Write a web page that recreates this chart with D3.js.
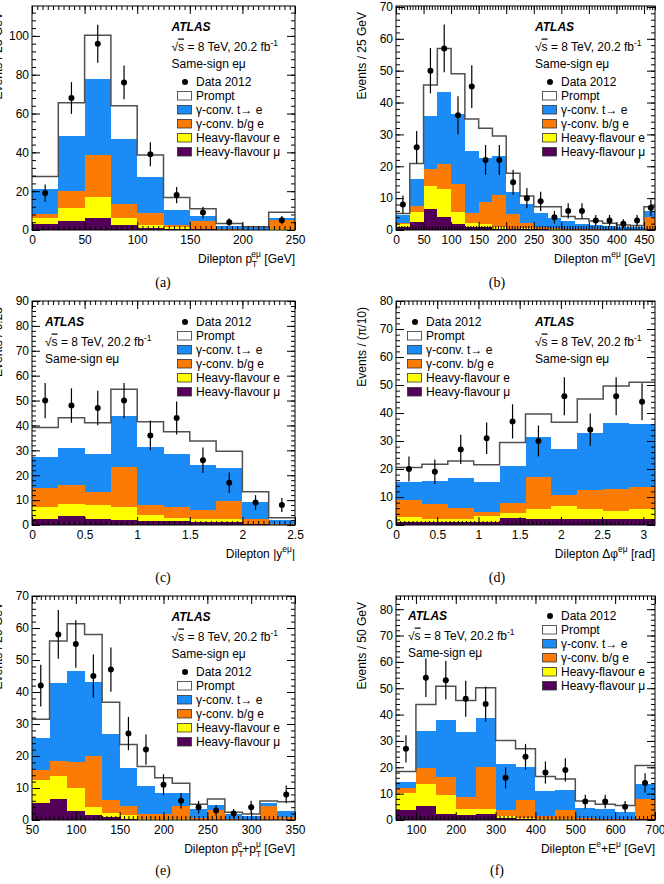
<!DOCTYPE html>
<html>
<head>
<meta charset="utf-8">
<script src="https://cdn.jsdelivr.net/npm/d3@7"></script>
<style>
  body { margin: 0; background: #fff; }
  svg { display: block; }
</style>
</head>
<body>
<div id="chart"></div>
<script>
const W = 664, H = 884;
const font = "'Liberation Sans', Arial, Helvetica, sans-serif";

// fill colours of the stacked components
const colors = { prompt: "#ffffff", tconv: "#1b8cf5", bgconv: "#fb7b05", hfe: "#ffff00", hfmu: "#520058" };
const keys = ["hfmu", "hfe", "bgconv", "tconv", "prompt"]; // bottom -> top
const legendKeys = ["prompt", "tconv", "bgconv", "hfe", "hfmu"];
const legendLabels = ["Prompt", "γ-conv. t→ e", "γ-conv. b/g e", "Heavy-flavour e", "Heavy-flavour μ"];

// (a) dilepton pT
const aEdges = [0, 25, 50, 75, 100, 125, 150, 175, 200, 225, 250];
const aPrompt = [6.5, 17, 22.3, 17.3, 11.6, 6.4, 3.8, 1.2, 0.2, 3.1];
const aTconv = [13, 28.5, 39.3, 33.5, 18.5, 7.7, 2.4, 1.9, 1.3, 0.8];
const aBgconv = [2, 8.5, 21.7, 7.2, 6, 0.9, 4.3, 0.2, 0.2, 4.9];
const aHfe = [3, 6.9, 11, 3.6, 1.4, 1, 0.2, 0.1, 0, 0.1];
const aHfmu = [3, 4.6, 6, 2.4, 1.2, 0.7, 0.3, 0, 0, 0.2];
const aData = [19, 68, 96, 76, 39, 18, 9, 4, null, 5];
const aErr = [4.4, 8.2, 9.8, 8.7, 6.2, 4.2, 3, 2, 0, 2.2];

// (b) dilepton mass
const bEdges = [0, 25, 50, 75, 100, 125, 150, 175, 200, 225, 250, 275, 300, 325, 350, 375, 400, 425, 450, 475];
const bPrompt = [0.5, 4.9, 9.7, 13.6, 12.6, 10, 9.4, 6.3, 5.8, 2.5, 2.1, 3.6, 1.4, 1.6, 1.2, 0.7, 0.6, 0.4, 1.2];
const bTconv = [2.4, 8.5, 16.8, 22.7, 22, 19.6, 13.8, 12.2, 7.1, 6.1, 4.2, 3, 2.5, 1.7, 1.4, 1.3, 0.9, 0.9, 2.1];
const bBgconv = [0.4, 2, 5.1, 7.7, 8.9, 2.9, 6.8, 10.2, 4.6, 1.6, 0.7, 0.5, 0.2, 0.2, 0.2, 0.1, 0.1, 0.1, 3.7];
const bHfe = [0.9, 2.9, 7.3, 9, 3.7, 1.3, 1.1, 0.4, 0.1, 0.2, 0.1, 0.1, 0.1, 0, 0, 0, 0, 0, 0.1];
const bHfmu = [1, 2.6, 6.6, 4, 1.8, 1, 0.8, 0.4, 0.2, 0.3, 0.2, 0.1, 0, 0, 0, 0, 0, 0, 0.2];
const bData = [8, 26, 50, 57, 36, 45, 22, 22, 15, 10, 9, 4, 6, 6, 3, 3, 2, 3, 7];
const bErr = [2.8, 5.1, 7.1, 7.5, 6, 6.7, 4.7, 4.7, 3.9, 3.2, 3, 2, 2.4, 2.4, 1.7, 1.7, 1.4, 1.7, 2.6];

// (c) dilepton |y|
const cEdges = [0, 0.25, 0.5, 0.75, 1, 1.25, 1.5, 1.75, 2, 2.25, 2.5];
const cPrompt = [11.9, 12.3, 12.6, 10.7, 10.3, 9, 9.6, 6.8, 4, 0.9];
const cTconv = [12.4, 14.7, 15.2, 20.6, 23.2, 21.1, 18.1, 13.2, 7.1, 1.5];
const cBgconv = [7.5, 7.8, 5.4, 15.8, 4, 4.5, 3.5, 7.3, 1.8, 0.3];
const cHfe = [5, 4.6, 5.5, 5.4, 2.3, 1.4, 1.2, 1, 0.2, 0.1];
const cHfmu = [2.4, 3.7, 2.4, 2, 1.7, 1.5, 1.3, 1.3, 0.3, 0.1];
const cData = [50, 48, 47, 50, 36, 43, 26, 17, 9, 8];
const cErr = [7.1, 6.9, 6.9, 7.1, 6, 6.6, 5.1, 4.1, 3, 2.8];

// (d) dilepton delta phi, bins of pi/10
const dEdges = d3.range(11).map(i => i * Math.PI / 10);
const dPrompt = [5, 6.1, 6.1, 6.1, 8.4, 8.2, 9.4, 12.2, 13.2, 14.8];
const dTconv = [6.5, 8.2, 10.6, 10.6, 13.3, 14.3, 16.6, 20.3, 23.5, 22.8];
const dBgconv = [6.3, 5.3, 3.9, 1.6, 3.4, 11.5, 3.9, 6.9, 7.8, 7.7];
const dHfe = [1.7, 1.1, 1.1, 2, 2, 3.5, 4.7, 3.5, 3.1, 3.4];
const dHfmu = [1, 1, 1.2, 1.2, 2.4, 2.1, 2.1, 2.1, 2, 2.3];
const dData = [20, 19, 27, 31, 37, 30, 46, 34, 46, 44];
const dErr = [4.5, 4.4, 5.2, 5.6, 6.1, 5.5, 6.8, 5.8, 6.8, 6.6];

// (e) pT(e) + pT(mu)
const eEdges = [50, 70, 90, 110, 130, 150, 170, 190, 210, 230, 250, 270, 290, 310, 330, 350];
const ePrompt = [5.8, 13.2, 14.6, 14.8, 10, 7.5, 6.1, 4.7, 3, 1.6, 1.9, 0.5, 0.6, 0.7, 2.9];
const eTconv = [10.1, 24.3, 28.7, 23.1, 20.5, 11.6, 8.7, 6.6, 4.1, 2.8, 1.6, 1.7, 1.2, 0.7, 1.8];
const eBgconv = [3.1, 4.6, 8.1, 16.1, 4.2, 2.9, 1.6, 1.7, 4.2, 0.4, 3, 0.2, 0.1, 4.4, 0.9];
const eHfe = [7.1, 7.3, 7.1, 2.4, 1.3, 1.3, 0.2, 0.1, 0.1, 0.1, 0.1, 0, 0, 0.1, 0.1];
const eHfmu = [5.4, 6.5, 2.8, 1.6, 0.8, 0.3, 0.1, 0.1, 0.1, 0, 0, 0, 0, 0, 0];
const eData = [42, 58, 55, 45, 47, 27, 22, 11, 6, 4, 3, 2, 4, null, 8];
const eErr = [6.5, 7.6, 7.4, 6.7, 6.9, 5.2, 4.7, 3.3, 2.4, 2, 1.7, 1.4, 2, 0, 2.8];

// (f) E(e) + E(mu)
const fEdges = [50, 100, 150, 200, 250, 300, 350, 400, 450, 500, 550, 600, 650, 700];
const fPrompt = [4.1, 9.9, 12.7, 12, 11.5, 8.9, 6.7, 5.5, 4.2, 2.5, 1.9, 2.3, 7];
const fTconv = [2.2, 14, 21.8, 24.7, 18.4, 17.5, 12.9, 9.3, 7.6, 3.8, 3.6, 2.9, 5.8];
const fBgconv = [1.9, 6.3, 7, 4.4, 16.2, 2.3, 6.5, 1.5, 3.6, 0.8, 0.5, 0.3, 7.6];
const fHfe = [6.4, 8.3, 7, 2.3, 1.8, 0.6, 0.6, 0.1, 0.1, 0.1, 0, 0, 0.1];
const fHfmu = [3.8, 5.3, 2.3, 1.9, 2.3, 0.9, 0.3, 0.1, 0.1, 0, 0, 0, 0.2];
const fData = [27, 54, 53, 46, 44, 16, 24, 18, 19, 7, 7, 5, 14];
const fErr = [5.2, 7.3, 7.3, 6.8, 6.6, 4, 4.9, 4.2, 4.4, 2.6, 2.6, 2.2, 3.7];

// axis titles: [text, shift] with shift "sub", "sup" or "supb" (sup stacked over a sub)
const panels = [
  { id: "a", x0: 32, x1: 295, y0: 6, y1: 230, edges: aEdges, xDomain: [0, 250], yMax: 115.4,
    xTicks: [0, 50, 100, 150, 200, 250], xMinor: 5, yTicks: [0, 20, 40, 60, 80, 100], yMinor: 4,
    prompt: aPrompt, tconv: aTconv, bgconv: aBgconv, hfe: aHfe, hfmu: aHfmu, data: aData, err: aErr,
    ylabel: "Events / 25 GeV", xlabel: [["Dilepton p", ""], ["T", "sub"], ["eμ", "supb"], [" [GeV]", ""]],
    atlas: [139.5, 25], legend: [145, 80], caption: ["(a)", 163, 287] },
  { id: "b", x0: 396, x1: 655, y0: 6, y1: 230, edges: bEdges, xDomain: [0, 470], yMax: 70.3,
    xTicks: [0, 50, 100, 150, 200, 250, 300, 350, 400, 450], xMinor: 5, yTicks: [0, 10, 20, 30, 40, 50, 60, 70], yMinor: 2,
    prompt: bPrompt, tconv: bTconv, bgconv: bBgconv, hfe: bHfe, hfmu: bHfmu, data: bData, err: bErr,
    ylabel: "Events / 25 GeV", xlabel: [["Dilepton m", ""], ["eμ", "sup"], [" [GeV]", ""]],
    atlas: [139, 25], legend: [146, 80], caption: ["(b)", 497, 287] },
  { id: "c", x0: 32, x1: 295, y0: 301, y1: 525, edges: cEdges, xDomain: [0, 2.5], yMax: 90,
    xTicks: [0, 0.5, 1, 1.5, 2, 2.5], xMinor: 0.05, yTicks: [0, 10, 20, 30, 40, 50, 60, 70, 80, 90], yMinor: 2,
    prompt: cPrompt, tconv: cTconv, bgconv: cBgconv, hfe: cHfe, hfmu: cHfmu, data: cData, err: cErr,
    ylabel: "Events / 0.25", xlabel: [["Dilepton |y", ""], ["eμ", "sup"], ["|", ""]],
    atlas: [13, 25], legend: [145, 25], caption: ["(c)", 163, 582] },
  { id: "d", x0: 396, x1: 655, y0: 301, y1: 525, edges: dEdges, xDomain: [0, Math.PI], yMax: 80,
    xTicks: [0, 0.5, 1, 1.5, 2, 2.5, 3], xMinor: 0.05, yTicks: [0, 10, 20, 30, 40, 50, 60, 70, 80], yMinor: 2,
    prompt: dPrompt, tconv: dTconv, bgconv: dBgconv, hfe: dHfe, hfmu: dHfmu, data: dData, err: dErr,
    ylabel: "Events / (π/10)", xlabel: [["Dilepton Δφ", ""], ["eμ", "sup"], [" [rad]", ""]],
    atlas: [139, 25], legend: [11, 25], caption: ["(d)", 497, 582] },
  { id: "e", x0: 32, x1: 295, y0: 596, y1: 820, edges: eEdges, xDomain: [50, 350], yMax: 70,
    xTicks: [50, 100, 150, 200, 250, 300, 350], xMinor: 5, yTicks: [0, 10, 20, 30, 40, 50, 60, 70], yMinor: 2,
    prompt: ePrompt, tconv: eTconv, bgconv: eBgconv, hfe: eHfe, hfmu: eHfmu, data: eData, err: eErr,
    ylabel: "Events / 20 GeV",
    xlabel: [["Dilepton p", ""], ["T", "sub"], ["e", "supb"], ["+p", ""], ["T", "sub"], ["μ", "supb"], [" [GeV]", ""]],
    atlas: [139.5, 25], legend: [145, 80], caption: ["(e)", 163, 875] },
  { id: "f", x0: 396, x1: 655, y0: 596, y1: 820, edges: fEdges, xDomain: [50, 700], yMax: 85,
    xTicks: [100, 200, 300, 400, 500, 600, 700], xMinor: 10, yTicks: [0, 10, 20, 30, 40, 50, 60, 70, 80], yMinor: 2,
    prompt: fPrompt, tconv: fTconv, bgconv: fBgconv, hfe: fHfe, hfmu: fHfmu, data: fData, err: fErr,
    ylabel: "Events / 50 GeV", xlabel: [["Dilepton E", ""], ["e", "sup"], ["+E", ""], ["μ", "sup"], [" [GeV]", ""]],
    atlas: [12, 24], legend: [146, 24], caption: ["(f)", 497, 875] }
];

const svg = d3.select("#chart").append("svg")
  .attr("width", W)
  .attr("height", H)
  .attr("font-family", font);

function minorValues(domain, step) {
  const out = [];
  const start = Math.ceil(domain[0] / step - 1e-9);
  for (let i = start; i * step <= domain[1] + 1e-9; i++) out.push(+(i * step).toFixed(6));
  return out;
}

function styleAxis(a) {
  a.select(".domain").remove();
  a.attr("font-family", font).attr("font-size", 12);
  a.selectAll("line").attr("stroke", "#000");
  a.selectAll("text").attr("fill", "#000");
}

function drawPanel(p) {
  const g = svg.append("g");
  const x = d3.scaleLinear().domain(p.xDomain).range([p.x0, p.x1]);
  const y = d3.scaleLinear().domain([0, p.yMax]).range([p.y1, p.y0]);

  svg.append("clipPath").attr("id", "clip-" + p.id)
    .append("rect")
    .attr("x", p.x0).attr("y", p.y0)
    .attr("width", p.x1 - p.x0).attr("height", p.y1 - p.y0);

  const rows = p.prompt.map((v, i) => ({
    lo: p.edges[i], hi: p.edges[i + 1],
    prompt: p.prompt[i], tconv: p.tconv[i], bgconv: p.bgconv[i], hfe: p.hfe[i], hfmu: p.hfmu[i]
  }));
  const stacked = d3.stack().keys(keys)(rows);

  const plot = g.append("g").attr("clip-path", `url(#clip-${p.id})`);

  // stacked bars
  plot.selectAll("g.layer")
    .data(stacked)
    .join("g")
    .attr("class", "layer")
    .attr("fill", d => colors[d.key])
    .selectAll("rect")
    .data(d => d)
    .join("rect")
    .attr("shape-rendering", "crispEdges")
    .attr("x", d => x(d.data.lo))
    .attr("width", d => x(d.data.hi) - x(d.data.lo))
    .attr("y", d => y(d[1]))
    .attr("height", d => y(d[0]) - y(d[1]));

  // outline of the total (prompt on top)
  const top = stacked[stacked.length - 1];
  const steps = top.map(d => [d.data.lo, d[1]]);
  steps.push([rows[rows.length - 1].hi, top[top.length - 1][1]]);
  plot.append("path")
    .attr("d", d3.line().x(d => x(d[0])).y(d => y(d[1])).curve(d3.curveStepAfter)(steps))
    .attr("fill", "none")
    .attr("stroke", "#505050")
    .attr("stroke-width", 1.5);

  // data points with error bars
  const pts = p.data
    .map((v, i) => ({ v: v, e: p.err[i], c: (p.edges[i] + p.edges[i + 1]) / 2 }))
    .filter(d => d.v != null);
  plot.selectAll("line.err")
    .data(pts)
    .join("line")
    .attr("class", "err")
    .attr("x1", d => x(d.c)).attr("x2", d => x(d.c))
    .attr("y1", d => y(d.v - d.e)).attr("y2", d => y(d.v + d.e))
    .attr("stroke", "#000")
    .attr("stroke-width", 1.2);
  plot.selectAll("circle.pt")
    .data(pts)
    .join("circle")
    .attr("class", "pt")
    .attr("cx", d => x(d.c))
    .attr("cy", d => y(d.v))
    .attr("r", 3)
    .attr("fill", "#000");

  // axes, ticks inside on all four sides
  const xm = minorValues(p.xDomain, p.xMinor);
  const ym = minorValues([0, p.yMax], p.yMinor);

  g.append("g").attr("transform", `translate(0,${p.y1})`)
    .call(d3.axisBottom(x).tickValues(p.xTicks).tickFormat(d3.format("~g"))
      .tickSizeInner(-8).tickSizeOuter(0).tickPadding(5))
    .call(styleAxis);
  g.append("g").attr("transform", `translate(0,${p.y1})`)
    .call(d3.axisBottom(x).tickValues(xm).tickFormat("").tickSizeInner(-4).tickSizeOuter(0))
    .call(styleAxis);
  g.append("g").attr("transform", `translate(0,${p.y0})`)
    .call(d3.axisTop(x).tickValues(p.xTicks).tickFormat("").tickSizeInner(-8).tickSizeOuter(0))
    .call(styleAxis);
  g.append("g").attr("transform", `translate(0,${p.y0})`)
    .call(d3.axisTop(x).tickValues(xm).tickFormat("").tickSizeInner(-4).tickSizeOuter(0))
    .call(styleAxis);

  g.append("g").attr("transform", `translate(${p.x0},0)`)
    .call(d3.axisLeft(y).tickValues(p.yTicks).tickFormat(d3.format("~g"))
      .tickSizeInner(-8).tickSizeOuter(0).tickPadding(3))
    .call(styleAxis);
  g.append("g").attr("transform", `translate(${p.x0},0)`)
    .call(d3.axisLeft(y).tickValues(ym).tickFormat("").tickSizeInner(-4).tickSizeOuter(0))
    .call(styleAxis);
  g.append("g").attr("transform", `translate(${p.x1},0)`)
    .call(d3.axisRight(y).tickValues(p.yTicks).tickFormat("").tickSizeInner(-8).tickSizeOuter(0))
    .call(styleAxis);
  g.append("g").attr("transform", `translate(${p.x1},0)`)
    .call(d3.axisRight(y).tickValues(ym).tickFormat("").tickSizeInner(-4).tickSizeOuter(0))
    .call(styleAxis);

  // frame
  g.append("rect")
    .attr("x", p.x0).attr("y", p.y0)
    .attr("width", p.x1 - p.x0).attr("height", p.y1 - p.y0)
    .attr("fill", "none")
    .attr("stroke", "#000")
    .attr("stroke-width", 1);

  // y title
  g.append("text")
    .attr("transform", `translate(${p.x0 - 30},${p.y0 + 6}) rotate(-90)`)
    .attr("text-anchor", "end")
    .attr("font-size", 12)
    .text(p.ylabel);

  // x title with sub/superscripts
  const xt = g.append("text")
    .attr("x", p.x1)
    .attr("y", p.y1 + 33)
    .attr("text-anchor", "end")
    .attr("font-size", 12);
  let level = 0;
  p.xlabel.forEach(([t, kind]) => {
    const ts = xt.append("tspan").text(t);
    let target = 0, dx = 0;
    if (kind === "sub") target = 4;
    if (kind === "sup") target = -6;
    if (kind === "supb") { target = -6; dx = -5; }
    if (kind) ts.attr("font-size", 8.5);
    ts.attr("dy", target - level);
    if (dx) ts.attr("dx", dx);
    level = target;
  });

  // ATLAS label block
  const ax = p.x0 + p.atlas[0], ay = p.y0 + p.atlas[1];
  g.append("text")
    .attr("x", ax).attr("y", ay)
    .attr("font-size", 12)
    .attr("font-weight", "bold")
    .attr("font-style", "italic")
    .text("ATLAS");
  const rs = g.append("text")
    .attr("x", ax).attr("y", ay + 19.5)
    .attr("font-size", 12);
  rs.append("tspan").text("√");
  rs.append("tspan").attr("text-decoration", "overline").text("s");
  rs.append("tspan").text(" = 8 TeV, 20.2 fb");
  rs.append("tspan").attr("font-size", 8.5).attr("dy", -5).text("-1");
  g.append("text")
    .attr("x", ax).attr("y", ay + 37)
    .attr("font-size", 12)
    .text("Same-sign eμ");

  // legend
  const lx = p.x0 + p.legend[0], ly = p.y0 + p.legend[1];
  g.append("circle")
    .attr("cx", lx + 8).attr("cy", ly - 4)
    .attr("r", 3)
    .attr("fill", "#000");
  g.append("text")
    .attr("x", lx + 19).attr("y", ly)
    .attr("font-size", 12)
    .text("Data 2012");
  legendKeys.forEach((k, i) => {
    const yy = ly + 14 * (i + 1);
    g.append("rect")
      .attr("x", lx + 0.5).attr("y", yy - 8.5)
      .attr("width", 14).attr("height", 8.5)
      .attr("fill", colors[k])
      .attr("stroke", "#333")
      .attr("stroke-width", 0.8);
    g.append("text")
      .attr("x", lx + 19).attr("y", yy)
      .attr("font-size", 12)
      .text(legendLabels[i]);
  });

  // caption
  svg.append("text")
    .attr("x", p.caption[1]).attr("y", p.caption[2])
    .attr("text-anchor", "middle")
    .attr("font-family", "'Liberation Serif', 'Times New Roman', serif")
    .attr("font-size", 14)
    .text(p.caption[0]);
}

panels.forEach(drawPanel);
</script>
</body>
</html>
